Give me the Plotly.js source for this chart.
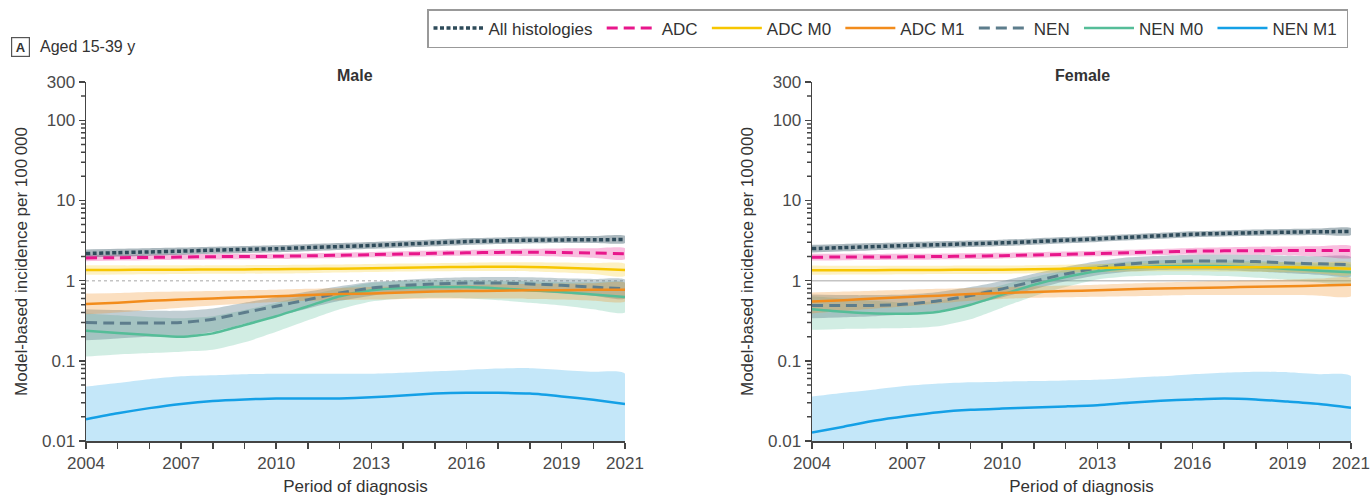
<!DOCTYPE html>
<html>
<head>
<meta charset="utf-8">
<script src="https://cdn.plot.ly/plotly-3.0.1.min.js"></script>
<style>html,body{margin:0;padding:0;background:#fff;}#chart{width:1372px;height:496px;}</style>
</head>
<body>
<div id="chart"></div>
<script>
// ---------- DATA ----------
const years = [2004,2005,2006,2007,2008,2009,2010,2011,2012,2013,2014,2015,2016,2017,2018,2019,2020,2021];
const xTickText = ['2004','','','2007','','','2010','','','2013','','','2016','','','2019','','2021'];
const yTickVals = [0.01, 0.1, 1, 10, 100, 300];
const yTickText = ['0.01', '0.1', '1', '10', '100', '300'];
const yMinorVals = [0.02,0.03,0.04,0.05,0.06,0.07,0.08,0.09,0.2,0.3,0.4,0.5,0.6,0.7,0.8,0.9,2,3,4,5,6,7,8,9,20,30,40,50,60,70,80,90,200];
const seriesNames = ['All histologies','ADC','ADC M0','ADC M1','NEN','NEN M0','NEN M1'];
const refLine = [1, 1];
const refYears = [2004, 2021];

// Male
const allHistM    = [2.18,2.23,2.28,2.33,2.40,2.45,2.50,2.58,2.66,2.74,2.85,2.96,3.07,3.14,3.19,3.22,3.24,3.25];
const allHistMLo  = [1.95,2.00,2.05,2.10,2.16,2.21,2.26,2.33,2.41,2.49,2.59,2.69,2.79,2.86,2.91,2.94,2.95,2.95];
const allHistMHi  = [2.45,2.49,2.53,2.58,2.65,2.71,2.77,2.85,2.94,3.03,3.14,3.26,3.38,3.46,3.52,3.56,3.60,3.62];
const adcM        = [1.92,1.93,1.95,1.97,1.99,2.00,2.01,2.04,2.07,2.11,2.15,2.19,2.22,2.25,2.26,2.24,2.21,2.17];
const adcMLo      = [1.75,1.78,1.80,1.82,1.84,1.85,1.86,1.89,1.92,1.96,1.99,2.02,2.04,2.05,2.03,1.99,1.93,1.85];
const adcMHi      = [2.10,2.10,2.11,2.13,2.15,2.16,2.17,2.20,2.23,2.27,2.32,2.37,2.41,2.46,2.50,2.52,2.53,2.53];
const adcM0M      = [1.36,1.36,1.37,1.37,1.38,1.38,1.39,1.40,1.41,1.43,1.45,1.47,1.48,1.49,1.48,1.45,1.41,1.36];
const adcM0MLo    = [1.18,1.19,1.20,1.21,1.22,1.22,1.23,1.24,1.26,1.28,1.30,1.31,1.32,1.32,1.30,1.26,1.21,1.14];
const adcM0MHi    = [1.56,1.55,1.55,1.55,1.55,1.56,1.57,1.58,1.59,1.61,1.63,1.65,1.67,1.69,1.70,1.68,1.65,1.62];
const adcM1M      = [0.51,0.53,0.56,0.58,0.60,0.62,0.64,0.66,0.68,0.69,0.71,0.73,0.74,0.75,0.76,0.76,0.77,0.77];
const adcM1MLo    = [0.38,0.40,0.43,0.46,0.49,0.52,0.54,0.56,0.57,0.58,0.59,0.60,0.60,0.60,0.59,0.58,0.56,0.55];
const adcM1MHi    = [0.69,0.70,0.72,0.73,0.74,0.76,0.77,0.79,0.81,0.83,0.85,0.87,0.88,0.90,0.91,0.92,0.93,0.94];
const nenM        = [0.30,0.295,0.296,0.30,0.33,0.40,0.48,0.58,0.70,0.81,0.87,0.91,0.935,0.935,0.91,0.875,0.83,0.79];
const nenMLo      = [0.18,0.19,0.20,0.20,0.23,0.29,0.36,0.45,0.56,0.65,0.71,0.75,0.77,0.76,0.73,0.69,0.65,0.60];
const nenMHi      = [0.44,0.43,0.42,0.42,0.45,0.53,0.62,0.73,0.85,0.96,1.02,1.07,1.10,1.11,1.10,1.07,1.05,1.03];
const nenM0M      = [0.237,0.222,0.21,0.20,0.22,0.28,0.36,0.48,0.64,0.76,0.81,0.83,0.83,0.80,0.76,0.72,0.67,0.625];
const nenM0MLo    = [0.113,0.12,0.125,0.13,0.137,0.17,0.23,0.32,0.44,0.55,0.60,0.61,0.60,0.57,0.53,0.49,0.44,0.40];
const nenM0MHi    = [0.39,0.37,0.35,0.34,0.36,0.43,0.53,0.66,0.80,0.94,0.99,1.01,1.02,1.00,0.98,0.96,0.95,0.94];
const nenM1M      = [0.0187,0.0222,0.0257,0.029,0.0316,0.033,0.0339,0.034,0.034,0.035,0.037,0.039,0.040,0.040,0.039,0.036,0.0326,0.029];
const nenM1MLo    = [0.005,0.005,0.005,0.005,0.005,0.005,0.005,0.005,0.005,0.005,0.005,0.005,0.005,0.005,0.005,0.005,0.005,0.005];
const nenM1MHi    = [0.0478,0.053,0.059,0.064,0.066,0.068,0.069,0.069,0.069,0.069,0.071,0.074,0.077,0.080,0.081,0.077,0.073,0.069];

// Female
const allHistF    = [2.51,2.58,2.66,2.74,2.81,2.88,2.96,3.07,3.19,3.32,3.47,3.63,3.79,3.88,3.96,4.02,4.07,4.10];
const allHistFLo  = [2.25,2.32,2.40,2.48,2.55,2.62,2.70,2.80,2.92,3.04,3.18,3.33,3.48,3.56,3.63,3.68,3.71,3.72];
const allHistFHi  = [2.80,2.87,2.94,3.02,3.09,3.16,3.24,3.36,3.49,3.63,3.79,3.96,4.13,4.23,4.33,4.40,4.46,4.52];
const adcF        = [1.96,1.97,1.97,1.98,2.00,2.02,2.05,2.09,2.13,2.18,2.23,2.28,2.33,2.35,2.36,2.37,2.37,2.37];
const adcFLo      = [1.78,1.80,1.81,1.82,1.84,1.86,1.89,1.93,1.97,2.01,2.05,2.09,2.12,2.12,2.10,2.06,2.00,1.93];
const adcFHi      = [2.16,2.16,2.15,2.16,2.17,2.19,2.22,2.26,2.30,2.36,2.42,2.48,2.55,2.60,2.64,2.67,2.69,2.70];
const adcM0F      = [1.35,1.35,1.35,1.36,1.36,1.37,1.37,1.39,1.41,1.44,1.46,1.47,1.47,1.47,1.47,1.47,1.45,1.41];
const adcM0FLo    = [1.18,1.19,1.19,1.20,1.21,1.21,1.22,1.24,1.26,1.28,1.30,1.31,1.31,1.30,1.29,1.27,1.23,1.18];
const adcM0FHi    = [1.54,1.53,1.53,1.53,1.53,1.54,1.54,1.56,1.58,1.61,1.64,1.65,1.66,1.67,1.68,1.69,1.69,1.68];
const adcM1F      = [0.55,0.57,0.60,0.625,0.65,0.68,0.70,0.72,0.74,0.76,0.78,0.80,0.81,0.82,0.84,0.85,0.87,0.89];
const adcM1FLo    = [0.39,0.42,0.45,0.48,0.52,0.56,0.59,0.61,0.62,0.63,0.64,0.65,0.66,0.66,0.66,0.66,0.65,0.64];
const adcM1FHi    = [0.71,0.73,0.75,0.77,0.79,0.81,0.83,0.85,0.87,0.89,0.92,0.95,0.97,0.99,1.01,1.03,1.06,1.08];
const nenF        = [0.49,0.49,0.49,0.51,0.56,0.65,0.79,0.98,1.21,1.44,1.62,1.71,1.76,1.76,1.73,1.66,1.62,1.58];
const nenFLo      = [0.34,0.35,0.36,0.38,0.42,0.50,0.62,0.78,0.98,1.17,1.30,1.36,1.37,1.35,1.30,1.24,1.18,1.13];
const nenFHi      = [0.67,0.66,0.66,0.67,0.72,0.83,0.99,1.22,1.48,1.74,1.95,2.05,2.11,2.12,2.10,2.05,2.01,1.97];
const nenM0F      = [0.44,0.41,0.39,0.387,0.41,0.50,0.67,0.89,1.11,1.31,1.44,1.51,1.52,1.51,1.47,1.40,1.33,1.27];
const nenM0FLo    = [0.244,0.25,0.253,0.256,0.27,0.33,0.46,0.64,0.83,1.03,1.13,1.17,1.17,1.14,1.09,1.02,0.95,0.89];
const nenM0FHi    = [0.64,0.60,0.56,0.53,0.56,0.68,0.88,1.11,1.36,1.58,1.73,1.80,1.82,1.80,1.76,1.70,1.64,1.58];
const nenM1F      = [0.0128,0.0151,0.018,0.0205,0.0229,0.0245,0.0254,0.0262,0.027,0.028,0.030,0.0318,0.033,0.0339,0.033,0.031,0.029,0.026];
const nenM1FLo    = [0.005,0.005,0.005,0.005,0.005,0.005,0.005,0.005,0.005,0.005,0.005,0.005,0.005,0.005,0.005,0.005,0.005,0.005];
const nenM1FHi    = [0.0358,0.040,0.044,0.0487,0.052,0.054,0.055,0.056,0.057,0.058,0.061,0.064,0.068,0.071,0.073,0.072,0.068,0.064];

// ---------- STYLE ----------
const styles = [
  {color:'#2e4b5a', band:'rgba(55,85,100,0.42)', dash:'4px,2.5px', width:3.5},
  {color:'#e8168b', band:'rgba(232,22,139,0.28)', dash:'11px,6px', width:3},
  {color:'#f7c600', band:'rgba(247,198,0,0.24)', dash:'solid', width:2.5},
  {color:'#f28c1c', band:'rgba(242,140,28,0.28)', dash:'solid', width:2.5},
  {color:'#5d7d8c', band:'rgba(93,125,140,0.38)', dash:'11px,6px', width:3},
  {color:'#55bd98', band:'rgba(85,189,152,0.27)', dash:'solid', width:2.5},
  {color:'#14a0e6', band:'rgba(20,160,230,0.25)', dash:'solid', width:2.5}
];

const male = [
  [allHistM, allHistMLo, allHistMHi],
  [adcM, adcMLo, adcMHi],
  [adcM0M, adcM0MLo, adcM0MHi],
  [adcM1M, adcM1MLo, adcM1MHi],
  [nenM, nenMLo, nenMHi],
  [nenM0M, nenM0MLo, nenM0MHi],
  [nenM1M, nenM1MLo, nenM1MHi]
];
const female = [
  [allHistF, allHistFLo, allHistFHi],
  [adcF, adcFLo, adcFHi],
  [adcM0F, adcM0FLo, adcM0FHi],
  [adcM1F, adcM1FLo, adcM1FHi],
  [nenF, nenFLo, nenFHi],
  [nenM0F, nenM0FLo, nenM0FHi],
  [nenM1F, nenM1FLo, nenM1FHi]
];

const FONT = 'Liberation Sans, Arial, sans-serif';
const axColor = '#444';
const FS = 17;
const W = 1372, H = 496;
const yRange = [-2, Math.log10(300)];
const yDom = [(H - 441) / H, (H - 82) / H];
const xDomL = [86 / W, 625 / W];
const xDomR = [812 / W, 1351 / W];

const traces = [];
function addPanel(set, xa, ya, tickAxis, showLeg, refDash) {
  traces.push({x: refYears, y: refLine, xaxis: xa, yaxis: ya, mode: 'lines',
    line: {color: '#c4c4c4', width: 1.5, dash: refDash}, showlegend: false, hoverinfo: 'skip'});
  for (let i = set.length - 1; i >= 0; i--) {
    const lo = set[i][1], hi = set[i][2];
    traces.push({
      x: years.concat(years.slice().reverse()),
      y: hi.concat(lo.slice().reverse()),
      xaxis: xa, yaxis: ya, mode: 'lines', fill: 'toself',
      fillcolor: styles[i].band, line: {width: 0, shape: 'spline', smoothing: 0.6},
      showlegend: false, hoverinfo: 'skip'
    });
  }
  for (let i = set.length - 1; i >= 0; i--) {
    traces.push({
      x: years, y: set[i][0], xaxis: xa, yaxis: ya, mode: 'lines',
      name: seriesNames[i] + '\u2005', legendrank: i + 1,
      line: {color: styles[i].color, width: styles[i].width, dash: styles[i].dash, shape: 'spline', smoothing: 0.6},
      showlegend: showLeg
    });
  }
  // minor y ticks: short horizontal segments in a thin strip subplot left of the y axis, sharing its log scale
  const tx = [], ty = [];
  yMinorVals.forEach(v => { tx.push(0, 1, null); ty.push(v, v, null); });
  traces.push({x: tx, y: ty, xaxis: tickAxis, yaxis: ya, mode: 'lines',
    line: {color: axColor, width: 1.5}, showlegend: false, hoverinfo: 'skip', cliponaxis: false});
}
addPanel(male, 'x', 'y', 'x3', true, 'dot');
addPanel(female, 'x2', 'y2', 'x4', false, 'solid');

function xAxis(domain, anchor) {
  return {
    domain: domain, anchor: anchor, range: [2004, 2021], type: 'linear',
    tickmode: 'array', tickvals: years, ticktext: xTickText,
    ticks: 'outside', ticklen: 6, tickwidth: 1.5, tickcolor: axColor,
    showline: true, linecolor: axColor, linewidth: 1.5,
    showgrid: false, zeroline: false, automargin: false,
    tickfont: {family: FONT, size: FS, color: '#4a4a4a'},
    title: {text: 'Period of diagnosis', font: {family: FONT, size: FS, color: '#333'}, standoff: 10}
  };
}
function tickStripAxis(xd, anchor) {
  return {domain: [xd[0] - 5 / W, xd[0] - 0.5 / W], anchor: anchor, range: [0, 1],
    visible: false, showgrid: false, zeroline: false, automargin: false, fixedrange: true};
}
function yAxis(domain, anchor) {
  return {
    domain: domain, anchor: anchor, type: 'log', range: yRange,
    tickmode: 'array', tickvals: yTickVals, ticktext: yTickText,
    ticks: 'outside', ticklen: 6, tickwidth: 1.5, tickcolor: axColor,
    showline: true, linecolor: axColor, linewidth: 1.5,
    showgrid: false, zeroline: false, automargin: false,
    tickfont: {family: FONT, size: FS, color: '#4a4a4a'},
    title: {text: 'Model-based incidence per 100\u2009000', font: {family: FONT, size: FS, color: '#333'}, standoff: 10}
  };
}

const layout = {
  width: W, height: H,
  margin: {l: 0, r: 0, t: 0, b: 0},
  paper_bgcolor: '#fff', plot_bgcolor: 'rgba(0,0,0,0)',
  font: {family: FONT, color: '#333'},
  xaxis: xAxis(xDomL, 'y'),
  yaxis: yAxis(yDom, 'x'),
  xaxis2: xAxis(xDomR, 'y2'),
  yaxis2: yAxis(yDom, 'x2'),
  xaxis3: tickStripAxis(xDomL, 'y'),
  xaxis4: tickStripAxis(xDomR, 'y2'),
  showlegend: true,
  legend: {
    orientation: 'h', x: 427 / W, y: 1 - 9 / H, xanchor: 'left', yanchor: 'top',
    bordercolor: '#999', borderwidth: 1.5, bgcolor: '#fff',
    font: {family: FONT, size: FS, color: '#333'},
    itemwidth: 50, traceorder: 'normal'
  },
  annotations: [
    {text: '<b>A</b>', xref: 'paper', yref: 'paper', x: 20 / W, y: 1 - 47 / H, xanchor: 'center', yanchor: 'middle', showarrow: false,
     font: {family: FONT, size: 13, color: '#333'}, bordercolor: '#555', borderwidth: 1.2, borderpad: 1, width: 15, height: 16},
    {text: 'Aged 15-39 y', xref: 'paper', yref: 'paper', x: 38 / W, y: 1 - 47 / H, xanchor: 'left', yanchor: 'middle', showarrow: false,
     font: {family: FONT, size: 16, color: '#333'}},
    {text: '<b>Male</b>', xref: 'paper', yref: 'paper', x: 355 / W, y: 1 - 75 / H, xanchor: 'center', yanchor: 'middle', showarrow: false,
     font: {family: FONT, size: 16, color: '#333'}},
    {text: '<b>Female</b>', xref: 'paper', yref: 'paper', x: 1082 / W, y: 1 - 75 / H, xanchor: 'center', yanchor: 'middle', showarrow: false,
     font: {family: FONT, size: 16, color: '#333'}}
  ]
};

Plotly.newPlot('chart', traces, layout, {staticPlot: true, displayModeBar: false});
</script>
</body>
</html>
